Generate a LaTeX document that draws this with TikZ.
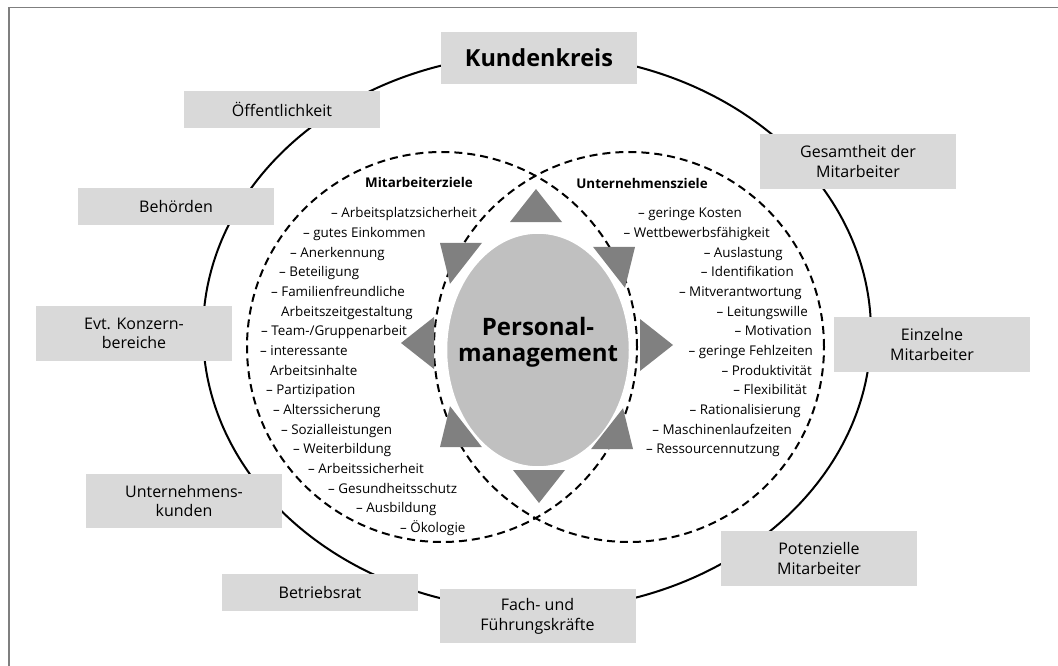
\documentclass[tikz,border=0pt]{standalone}
\usepackage{fontspec}
\setmainfont{Open Sans}
\usetikzlibrary{shapes.geometric}
\definecolor{boxgray}{HTML}{D9D9D9}
\definecolor{ellgray}{HTML}{C0C0C0}
\definecolor{trigray}{HTML}{808080}
\definecolor{framegray}{HTML}{7F7F7F}
\begin{document}
\begin{tikzpicture}[x=1pt,y=-1pt,
  box/.style={fill=boxgray, minimum width=196pt, inner sep=0pt, align=center, font=\fontsize{16}{19.7}\selectfont},
  one/.style={box, minimum height=37pt},
  two/.style={box, minimum height=55pt},
  item/.style={inner sep=0pt, font=\fontsize{13.4}{16}\selectfont},
  li/.style={item, anchor=base west},
  ri/.style={item, anchor=base east},
  head/.style={inner sep=0pt, anchor=base, font=\fontsize{13.4}{16}\selectfont\bfseries},
  tri/.style={fill=trigray},
  goal/.style={line width=2pt, dash pattern=on 8pt off 5pt},
]
\useasboundingbox (0,0) rectangle (1058,666);
\draw[framegray, line width=1.5pt] (9,666) -- (9,7.5) -- (1058,7.5);
% outer circle of customers
\draw[line width=2pt] (537,332) ellipse [x radius=334pt, y radius=278pt];
% boxes
\node[box, minimum height=52pt, font=\fontsize{23.5}{26}\selectfont\bfseries] (kk) at (539,58) {Kundenkreis};
\node[one] (oe) at (282,109.5) {Öffentlichkeit};
\node[one] (be) at (176,206.5) {Behörden};
\node[two] (ev) at (134,333.5) {Evt. Konzern-\\bereiche};
\node[two, minimum height=54pt] (uk) at (184,501) {Unternehmens-\\kunden};
\node[one] (br) at (320,592.5) {Betriebsrat};
\node[two, minimum height=54pt] (ff) at (537.5,616) {Fach- und\\Führungskräfte};
\node[two] (pm) at (819,558.5) {Potenzielle\\Mitarbeiter};
\node[two] (em) at (932,344.5) {Einzelne\\Mitarbeiter};
\node[two] (gm) at (858,161.5) {Gesamtheit der\\Mitarbeiter};
% goal circles
\draw[goal] (442,347) circle [radius=195pt];
\draw[goal] (629,347) circle [radius=195pt];
% central ellipse
\node[ellipse, fill=ellgray, draw=white, line width=2.5pt, minimum width=184pt, minimum height=235pt, inner sep=0pt] (pe) at (538,350) {};
\node[inner sep=0pt, align=center, font=\fontsize{24}{26}\selectfont\bfseries] (pt) at (538,342) {Personal-\\management};
% triangles
\foreach \ax/\ay/\ang in {536/189/90, 539/503/270, 401/343/180, 673/345/0, 440/243/142, 635/247/38, 440/447/218, 633/449/322}
  \fill[tri, shift={(\ax,\ay)}, rotate=\ang] (0,0) -- (-33,26) -- (-33,-26) -- cycle;
% headings
\node[head] (hm) at (419,188) {Mitarbeiterziele};
\node[head] (hu) at (642,189) {Unternehmensziele};
% left list
\node[li] (l1) at (331,218) {– Arbeitsplatzsicherheit};
\node[li] (l2) at (303,237.65) {– gutes Einkommen};
\node[li] (l3) at (290,257.3) {– Anerkennung};
\node[li] (l4) at (279,276.95) {– Beteiligung};
\node[li] (l5) at (271,296.6) {– Familienfreundliche};
\node[li] (l6) at (281,316.25) {Arbeitszeitgestaltung};
\node[li] (l7) at (261,335.9) {– Team-/Gruppenarbeit};
\node[li] (l8) at (260,355.55) {– interessante};
\node[li] (l9) at (270,375.2) {Arbeitsinhalte};
\node[li] (l10) at (266,394.85) {– Partizipation};
\node[li] (l11) at (273,414.5) {– Alterssicherung};
\node[li] (l12) at (281,434.15) {– Sozialleistungen};
\node[li] (l13) at (293,453.8) {– Weiterbildung};
\node[li] (l14) at (308,473.45) {– Arbeitssicherheit};
\node[li] (l15) at (328,493.1) {– Gesundheitsschutz};
\node[li] (l16) at (356,512.75) {– Ausbildung};
\node[li] (l17) at (400,532.4) {– Ökologie};
% right list
\node[ri] (r1) at (742,218) {– geringe Kosten};
\node[ri] (r2) at (770,237.65) {– Wettbewerbsfähigkeit};
\node[ri] (r3) at (783,257.3) {– Auslastung};
\node[ri] (r4) at (794,276.95) {– Identifikation};
\node[ri] (r5) at (802,296.6) {– Mitverantwortung};
\node[ri] (r6) at (808,316.25) {– Leitungswille};
\node[ri] (r7) at (812,335.9) {– Motivation};
\node[ri] (r8) at (813,355.55) {– geringe Fehlzeiten};
\node[ri] (r9) at (812,375.2) {– Produktivität};
\node[ri] (r10) at (807,394.85) {– Flexibilität};
\node[ri] (r11) at (801,414.5) {– Rationalisierung};
\node[ri] (r12) at (792,434.15) {– Maschinenlaufzeiten};
\node[ri] (r13) at (780,453.8) {– Ressourcennutzung};
\end{tikzpicture}
\end{document}
